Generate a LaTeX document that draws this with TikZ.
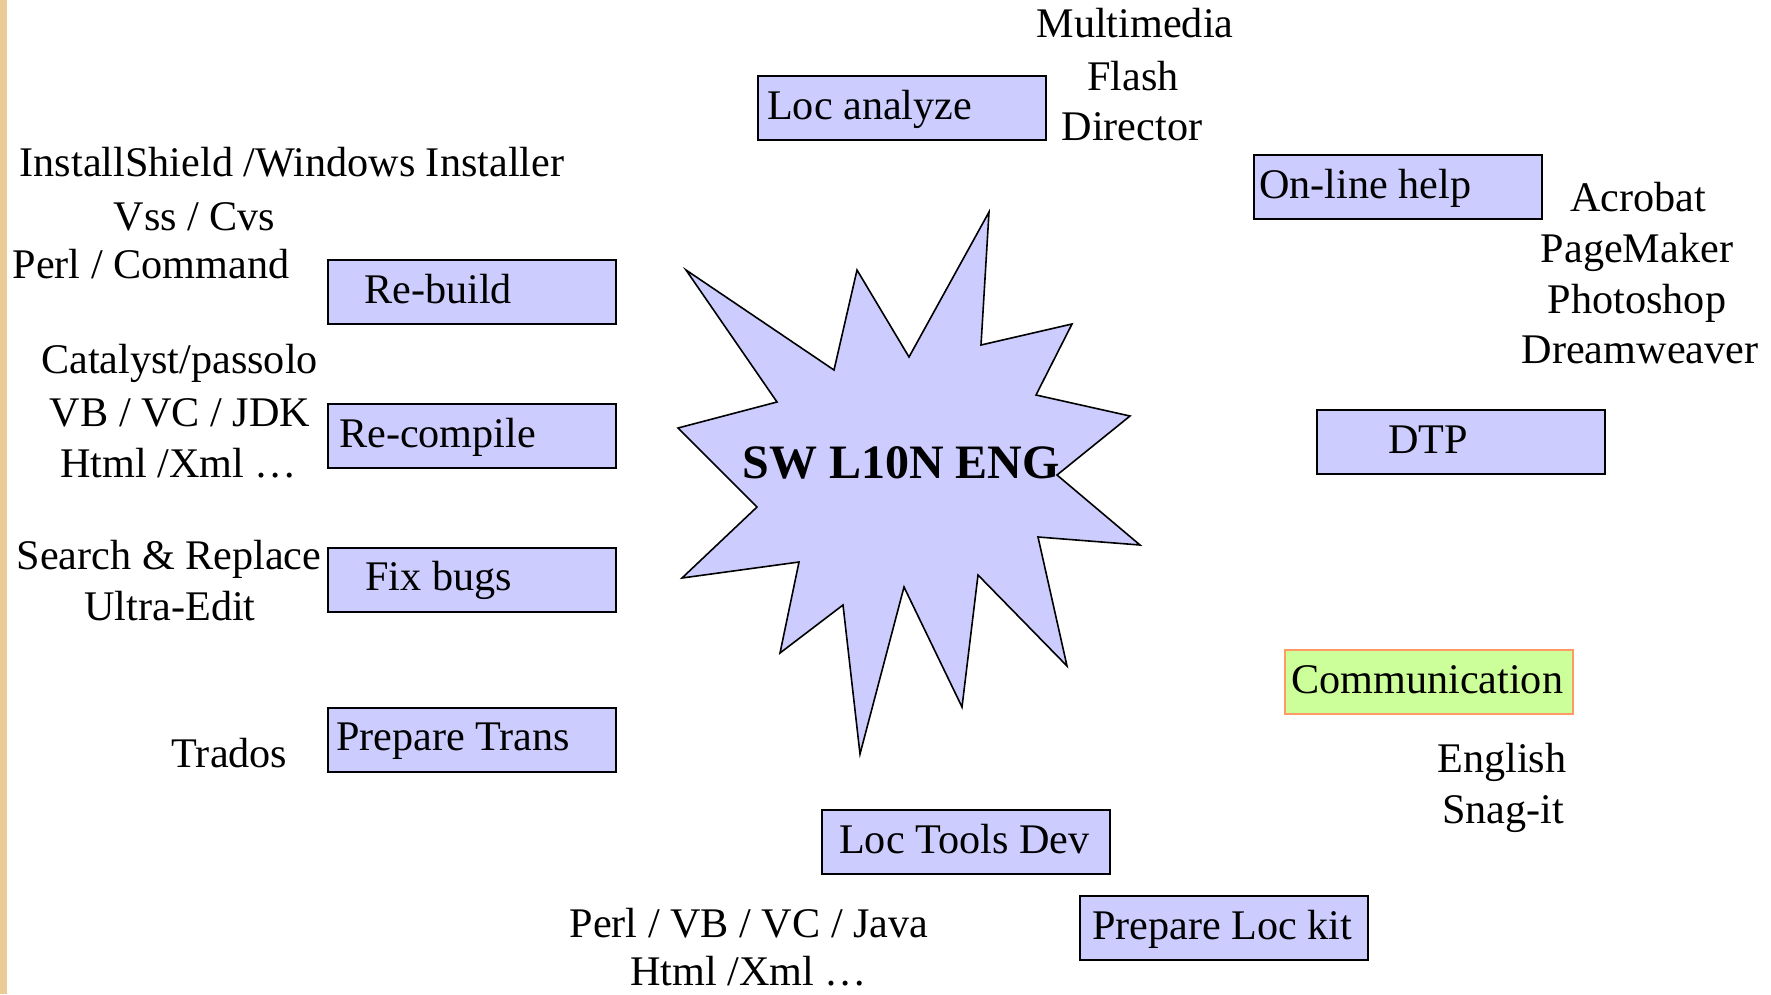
\documentclass[tikz,border=0pt]{standalone}
\usepackage{fontspec}
\setmainfont{Liberation Serif}
\definecolor{boxfill}{RGB}{204,204,255}
\definecolor{commfill}{RGB}{204,255,153}
\definecolor{commline}{RGB}{255,153,102}
\definecolor{stripcol}{RGB}{233,204,150}
\begin{document}
\begin{tikzpicture}[x=1pt,y=-1pt,
  taskbox/.style={draw=black, line width=2pt, fill=boxfill, minimum width=288pt,
    minimum height=64pt, anchor=north west, inner sep=0pt},
  commbox/.style={taskbox, draw=commline, fill=commfill},
  lbl/.style={font=\fontsize{42.2}{50}\selectfont, inner sep=0pt, anchor=base},
  boxlbl/.style={lbl, anchor=base west},
  starshape/.style={draw=black, fill=boxfill, line width=1.6pt, line join=miter}]
\useasboundingbox (0,0) rectangle (1771,994);
\fill[stripcol] (0,0) rectangle (7,994);

% central star
\draw[starshape] (686,270) -- (834,370) -- (857,270) -- (909,357) -- (989,212)
  -- (981,345) -- (1072,324) -- (1036,395) -- (1130,416) -- (1057,475)
  -- (1140,545) -- (1038,537) -- (1067,666) -- (978,575) -- (962,707)
  -- (904,587) -- (860,754) -- (843,605) -- (780,653) -- (799,562)
  -- (682,578) -- (757,507) -- (678,428) -- (777,402) -- cycle;
\node[font=\fontsize{48}{56}\selectfont\bfseries, inner sep=0pt, anchor=base] (core) at (901,478) {SW L10N ENG};

% task boxes
\node[taskbox] (locan) at (757,75) {};
\node[taskbox] (rebuild) at (327,259) {};
\node[taskbox] (recomp) at (327,403) {};
\node[taskbox] (fixbugs) at (327,547) {};
\node[taskbox] (preptr) at (327,707) {};
\node[taskbox] (loctools) at (821,809) {};
\node[taskbox] (lockit) at (1079,895) {};
\node[taskbox] (online) at (1253,154) {};
\node[taskbox] (dtp) at (1316,409) {};
\node[commbox] (comm) at (1284,649) {};

\node[boxlbl] (locanT) at ([shift={(10,44)}]locan.north west) {Loc analyze};
\node[boxlbl] (rebuildT) at ([shift={(37,44)}]rebuild.north west) {Re-build};
\node[boxlbl] (recompT) at ([shift={(12,44)}]recomp.north west) {Re-compile};
\node[boxlbl] (fixbugsT) at ([shift={(38,43)}]fixbugs.north west) {Fix bugs};
\node[boxlbl] (preptrT) at ([shift={(9,43)}]preptr.north west) {Prepare Trans};
\node[boxlbl] (loctoolsT) at ([shift={(18,44)}]loctools.north west) {Loc Tools Dev};
\node[boxlbl] (lockitT) at ([shift={(13,44)}]lockit.north west) {Prepare Loc kit};
\node[boxlbl] (onlineT) at ([shift={(6,44)}]online.north west) {On-line help};
\node[boxlbl] (dtpT) at ([shift={(72,44)}]dtp.north west) {DTP};
\node[boxlbl] (commT) at ([shift={(7,44)}]comm.north west) {Communication};

% tool lists
\node[lbl] (t1) at (292,176) {InstallShield /Windows Installer};
\node[lbl] (t2) at (194.5,230) {Vss / Cvs};
\node[lbl] (t3) at (151,278) {Perl / Command};
\node[lbl] (t4) at (179.5,373) {Catalyst/passolo};
\node[lbl] (t5) at (180,426) {VB / VC / JDK};
\node[lbl] (t6) at (178.5,477) {Html /Xml …};
\node[lbl] (t7) at (169,569) {Search \& Replace};
\node[lbl] (t8) at (170,620) {Ultra-Edit};
\node[lbl] (t9) at (229.5,767) {Trados};
\node[lbl] (m1) at (1135,37) {Multimedia};
\node[lbl] (m2) at (1133,90) {Flash};
\node[lbl] (m3) at (1132,140) {Director};
\node[lbl] (a1) at (1638,211) {Acrobat};
\node[lbl] (a2) at (1637,262) {PageMaker};
\node[lbl] (a3) at (1637,313) {Photoshop};
\node[lbl] (a4) at (1640,363) {Dreamweaver};
\node[lbl] (e1) at (1502,772) {English};
\node[lbl] (e2) at (1503,823) {Snag-it};
\node[lbl] (p1) at (749,937) {Perl / VB / VC / Java};
\node[lbl] (p2) at (748.5,985) {Html /Xml …};
\end{tikzpicture}
\end{document}
